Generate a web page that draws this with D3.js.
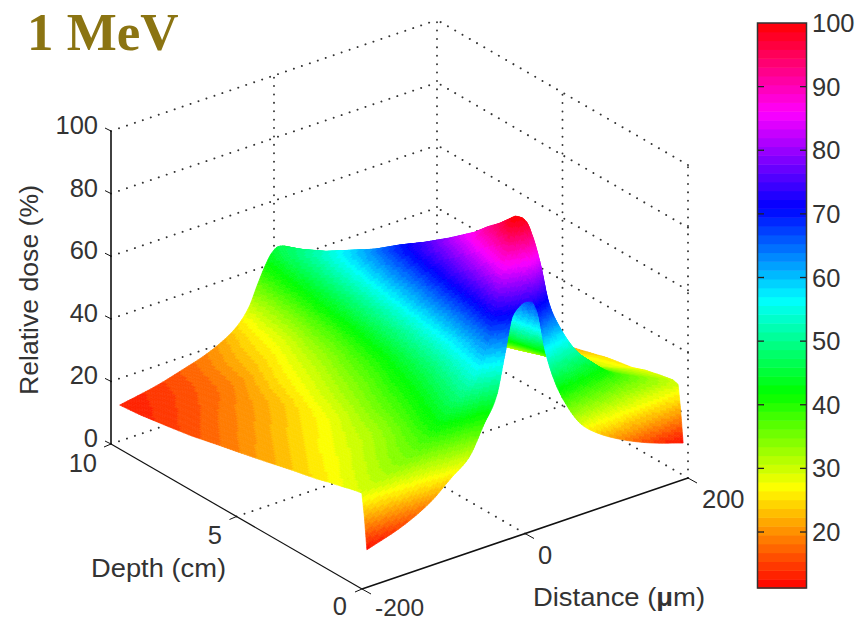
<!DOCTYPE html>
<html>
<head>
<meta charset="utf-8">
<script src="https://cdn.jsdelivr.net/npm/d3@7"></script>
<style>
  html, body { margin: 0; padding: 0; background: #fff; }
  svg { display: block; }
  text { font-family: "Liberation Sans", Arial, sans-serif; fill: #333; }
</style>
</head>
<body>
<svg id="chart" width="858" height="621"></svg>
<script>
// --- Data ---
const distances = [-194, -150, -115, -90, -70, -50, -35, -25, -15, -8, 0, 8, 15, 25, 35, 50, 70, 90, 115, 150, 194];
const depths = [0, 0.1, 0.2, 0.4, 0.7, 1, 1.5, 2, 3, 4, 5, 6, 7, 8, 9, 9.85];

// relative dose, one row per depth, one column per distance
const dose = [
  [12, 15.7, 20.5, 25.9, 30, 39.5, 47, 59, 71, 73, 74, 73.5, 70, 56, 46.5, 37, 28.5, 24, 20, 15.7, 11.7],
  [22, 26, 31, 37, 42.3, 49.4, 59.3, 71.4, 83.5, 89.9, 92, 90, 83.6, 71.7, 59.8, 50, 43, 37.8, 31.8, 26.9, 22],
  [29.2, 33, 37.2, 43.4, 48.9, 56.2, 66.4, 78.8, 91.2, 97.8, 100, 97.9, 93, 83, 70, 60, 51, 45.4, 39.4, 34.4, 29.5],
  [28.9, 33.4, 38, 44.1, 49.5, 56.6, 66.6, 78.8, 90.9, 97.4, 99.5, 97.4, 92, 81.5, 68.5, 58, 50.9, 45.6, 39.7, 34.9, 30],
  [28.3, 32.8, 37.2, 43.1, 48.4, 55.3, 65, 76.8, 88.7, 94.9, 97, 94.9, 89.5, 79.5, 66.5, 56.5, 49.8, 44.7, 39, 34.2, 29.5],
  [27.6, 32, 36.5, 42.2, 47.3, 54, 63.5, 74.9, 86.4, 92.5, 94.5, 92.5, 87, 77.5, 65, 55.2, 48.7, 43.7, 38.2, 33.6, 29],
  [26.6, 30.8, 34.8, 40.4, 45.3, 51.8, 61, 72, 83.2, 89, 91, 89, 83.5, 74.5, 62, 53.2, 46.9, 42.2, 36.8, 32.4, 28],
  [25.4, 29.4, 33.2, 38.6, 43.3, 49.5, 58.3, 68.9, 79.5, 85.1, 87, 85.1, 80, 71, 59.5, 50.7, 44.7, 40.1, 35, 30.7, 26.5],
  [23.6, 27.3, 31, 35.9, 40.3, 46, 54, 63.8, 73.6, 78.8, 80.5, 78.8, 74, 65.5, 55, 47.2, 41.7, 37.5, 32.8, 28.9, 25],
  [21.6, 24.9, 28.1, 32.7, 36.7, 42.1, 49.7, 58.8, 68, 72.9, 74.5, 72.9, 68.3, 60.5, 50.7, 43.4, 38.2, 34.4, 30, 26.3, 22.7],
  [19.7, 22.8, 25.8, 30.1, 33.9, 38.9, 45.9, 54.4, 63, 67.5, 69, 67.5, 63.2, 55.5, 46.7, 40, 35, 31.4, 27.4, 23.9, 20.5],
  [17.9, 20.7, 23.4, 27.4, 30.8, 35.4, 41.8, 49.7, 57.5, 61.6, 63, 61.7, 57.7, 50.1, 42.5, 36.3, 31.9, 28.5, 24.7, 21.6, 18.5],
  [16, 18.8, 21.5, 25.1, 28.3, 32.5, 38.5, 45.7, 52.9, 56.7, 58, 56.8, 53, 46.2, 39.2, 33.4, 29.3, 26.2, 22.7, 19.9, 17],
  [14.6, 16.9, 19, 22.4, 25.4, 29.3, 34.8, 41.5, 48.3, 51.8, 53, 51.9, 48.4, 42, 35.5, 30.2, 26.4, 23.6, 20.3, 17.7, 15],
  [13.3, 15.5, 17.9, 20.9, 23.7, 27.3, 32.4, 38.5, 44.7, 47.9, 49, 48, 44.8, 38.9, 32.9, 28, 24.5, 21.9, 18.9, 16.5, 14],
  [12.6, 14.7, 17.2, 19.2, 21.5, 25, 30, 36, 41.5, 44.5, 46, 45.5, 42, 36, 30.5, 25.9, 22.5, 20, 17.2, 14.8, 12.5]
];

const doseTicks = [0, 20, 40, 60, 80, 100];
const depthTicks = [0, 5, 10];
const distanceTicks = [-200, 0, 200];
const colorbarTicks = [20, 30, 40, 50, 60, 70, 80, 90, 100];

// flipped hsv colormap
const colorStops = [11.2, 27, 42, 56.5, 71, 86, 100];
const colorHues = ["#ff0000", "#ffff00", "#00ff00", "#00ffff", "#0000ff", "#ff00ff", "#ff0000"];
const N_COLORS = 64;

// --- Scales: oblique projection of the axes box ---
const xDist = d3.scaleLinear().domain([-200, 200]).range([362, 688]);
const yDist = d3.scaleLinear().domain([-200, 200]).range([589, 478]);
const xDepth = d3.scaleLinear().domain([0, 10]).range([0, -251]);
const yDepth = d3.scaleLinear().domain([0, 10]).range([0, -145]);
const yDose = d3.scaleLinear().domain([0, 100]).range([0, -313]);

const px = (dist, depth) => xDist(dist) + xDepth(depth);
const py = (dist, depth, z) => yDist(dist) + yDepth(depth) + yDose(z);

const hue = d3.scaleLinear().domain(colorStops).range(colorHues).interpolate(d3.interpolateRgb);
const levels = d3.range(N_COLORS).map((i) => hue(11.2 + ((i + 0.5) * (100 - 11.2)) / N_COLORS));
const colorOf = d3.scaleQuantize().domain([11.2, 100]).range(levels);

const svg = d3.select("#chart");
svg.append("defs").append("filter").attr("id", "soft")
  .append("feGaussianBlur").attr("stdDeviation", 0.45);

// --- Dotted grid on the floor and back walls ---
const grid = svg.append("g")
  .attr("fill", "none")
  .attr("stroke", "#333")
  .attr("stroke-width", 1.9)
  .attr("stroke-linecap", "round")
  .attr("stroke-dasharray", "0.1 8.3");

function gridLine(a, b) {
  grid.append("line")
    .attr("x1", px(a[0], a[1])).attr("y1", py(a[0], a[1], a[2]))
    .attr("x2", px(b[0], b[1])).attr("y2", py(b[0], b[1], b[2]));
}

doseTicks.forEach((z) => {
  gridLine([-200, 10, z], [200, 10, z]);
  gridLine([200, 0, z], [200, 10, z]);
});
gridLine([0, 0, 0], [0, 10, 0]);
gridLine([-200, 5, 0], [200, 5, 0]);
gridLine([0, 10, 0], [0, 10, 100]);
gridLine([200, 10, 0], [200, 10, 100]);
gridLine([200, 5, 0], [200, 5, 100]);
gridLine([200, 0, 0], [200, 0, 100]);

// --- Surface shading: smooth the drawing between the read values, like interp shading ---
function rowSlopes(row) {
  const n = distances.length;
  const s = d3.range(n - 1).map((k) => (row[k + 1] - row[k]) / (distances[k + 1] - distances[k]));
  return d3.range(n).map((k) => {
    if (k === 0) return s[0];
    if (k === n - 1) return s[n - 2];
    if (s[k - 1] * s[k] <= 0) return 0;
    const h0 = distances[k] - distances[k - 1], h1 = distances[k + 1] - distances[k];
    return (h0 + h1) / (h1 / s[k - 1] + h0 / s[k]);
  });
}
const slopes = dose.map(rowSlopes);

function rowValue(i, j, u) {
  const h = distances[j + 1] - distances[j];
  const a = dose[i][j], b = dose[i][j + 1];
  const u2 = u * u, u3 = u2 * u;
  return (2 * u3 - 3 * u2 + 1) * a + (u3 - 2 * u2 + u) * h * slopes[i][j] +
    (3 * u2 - 2 * u3) * b + (u3 - u2) * h * slopes[i][j + 1];
}

// far cells first so the near ones paint over them
const surface = svg.append("g").attr("filter", "url(#soft)");
const line = d3.line();

for (let i = depths.length - 2; i >= 0; i--) {
  for (let j = distances.length - 2; j >= 0; j--) {
    const d0 = depths[i], d1 = depths[i + 1];
    const x0 = distances[j], x1 = distances[j + 1];
    const at = (u, v) => {
      const z = (1 - v) * rowValue(i, j, u) + v * rowValue(i + 1, j, u);
      const dist = x0 + u * (x1 - x0), depth = d0 + v * (d1 - d0);
      return { z, p: [px(dist, depth), py(dist, depth, z)] };
    };
    const span = (a, b) => Math.hypot(a.p[0] - b.p[0], a.p[1] - b.p[1]);
    const nu = Math.max(1, Math.ceil(Math.max(span(at(0, 0), at(1, 0)), span(at(0, 1), at(1, 1))) / 3));
    const nv = Math.max(1, Math.ceil(Math.max(span(at(0, 0), at(0, 1)), span(at(1, 0), at(1, 1))) / 3));
    for (let v = nv - 1; v >= 0; v--) {
      for (let u = nu - 1; u >= 0; u--) {
        const a = at(u / nu, v / nv), b = at((u + 1) / nu, v / nv);
        const c = at((u + 1) / nu, (v + 1) / nv), e = at(u / nu, (v + 1) / nv);
        const col = colorOf((a.z + b.z + c.z + e.z) / 4);
        surface.append("path")
          .attr("d", line([a.p, b.p, c.p, e.p]) + "Z")
          .attr("fill", col)
          .attr("stroke", col)
          .attr("stroke-width", 0.7);
      }
    }
  }
}

// --- Solid axes and their ticks ---
const axes = svg.append("g").attr("fill", "none").attr("stroke", "#111").attr("stroke-width", 1.2);

function axisLine(x1, y1, x2, y2, w) {
  axes.append("line").attr("x1", x1).attr("y1", y1).attr("x2", x2).attr("y2", y2)
    .attr("stroke-width", w || 1.2);
}

axisLine(px(-200, 10), py(-200, 10, 0), px(-200, 10), py(-200, 10, 100), 1.6);
axisLine(px(-200, 0), py(-200, 0, 0), px(-200, 10), py(-200, 10, 0), 1.2);
axisLine(px(-200, 0), py(-200, 0, 0), px(200, 0), py(200, 0, 0), 1.6);

doseTicks.forEach((z) => {
  const x = px(-200, 10), y = py(-200, 10, z);
  axisLine(x, y, x - 6, y - 3, 1);
  svg.append("text").attr("x", 98).attr("y", y - 6)
    .attr("text-anchor", "end").attr("dominant-baseline", "central")
    .attr("font-size", 25.5).text(z);
});
depthTicks.forEach((d) => {
  const x = px(-200, d), y = py(-200, d, 0);
  axisLine(x, y, x - 7, y + 3, 1);
});
distanceTicks.forEach((t) => {
  const x = px(t, 0), y = py(t, 0, 0);
  axisLine(x, y, x + 9, y + 5, 1);
});

const depthLabelPos = new Map([[0, [347, 606]], [5, [222, 535]], [10, [97, 463]]]);
depthTicks.forEach((d) => {
  const [x, y] = depthLabelPos.get(d);
  svg.append("text").attr("x", x).attr("y", y)
    .attr("text-anchor", "end").attr("dominant-baseline", "central")
    .attr("font-size", 25.5).text(d);
});
const distLabelPos = new Map([[-200, [375, 607]], [0, [538, 555]], [200, [702, 499]]]);
distanceTicks.forEach((t) => {
  const [x, y] = distLabelPos.get(t);
  svg.append("text").attr("x", x).attr("y", y)
    .attr("dominant-baseline", "central")
    .attr("font-size", t === -200 ? 24.5 : 25.5).text(t);
});

// --- Axis titles ---
svg.append("text")
  .attr("transform", "translate(29,290) rotate(-90)")
  .attr("text-anchor", "middle").attr("dominant-baseline", "central")
  .attr("font-size", 25).attr("textLength", 210).attr("lengthAdjust", "spacingAndGlyphs")
  .text("Relative dose (%)");
svg.append("text").attr("x", 91).attr("y", 568)
  .attr("dominant-baseline", "central").attr("font-size", 25.5)
  .attr("textLength", 135).attr("lengthAdjust", "spacingAndGlyphs").text("Depth (cm)");
const distTitle = svg.append("text").attr("x", 533).attr("y", 597)
  .attr("dominant-baseline", "central").attr("font-size", 25.5)
  .attr("textLength", 172).attr("lengthAdjust", "spacingAndGlyphs");
distTitle.append("tspan").text("Distance (");
distTitle.append("tspan").attr("font-weight", "bold").text("\u03bc");
distTitle.append("tspan").text("m)");

svg.append("text").attr("x", 27).attr("y", 50)
  .style("font-family", '"Liberation Serif", "Times New Roman", serif')
  .style("fill", "#8b7412")
  .attr("font-weight", "bold").attr("font-size", 53).text("1 MeV");

// --- Colorbar ---
const barY = d3.scaleLinear().domain([11.2, 100]).range([588, 23]);
const bar = svg.append("g");
bar.selectAll("rect")
  .data(levels)
  .join("rect")
  .attr("x", 757.5)
  .attr("width", 49)
  .attr("y", (d, i) => barY(11.2 + ((i + 1) * (100 - 11.2)) / N_COLORS))
  .attr("height", 565 / N_COLORS + 0.5)
  .attr("fill", (d) => d);
bar.append("rect")
  .attr("x", 757.5).attr("y", 23).attr("width", 49).attr("height", 565)
  .attr("fill", "none").attr("stroke", "#333").attr("stroke-width", 1.5);
colorbarTicks.forEach((t) => {
  const y = barY(t);
  if (t < 100) {
    bar.append("line").attr("x1", 758).attr("x2", 764).attr("y1", y).attr("y2", y).attr("stroke", "#222").attr("stroke-width", 1.3);
    bar.append("line").attr("x1", 800).attr("x2", 806).attr("y1", y).attr("y2", y).attr("stroke", "#222").attr("stroke-width", 1.3);
  }
  bar.append("text").attr("x", 812).attr("y", t === 100 ? 23 : y)
    .attr("dominant-baseline", "central").attr("font-size", 25.5).text(t);
});
</script>
</body>
</html>
